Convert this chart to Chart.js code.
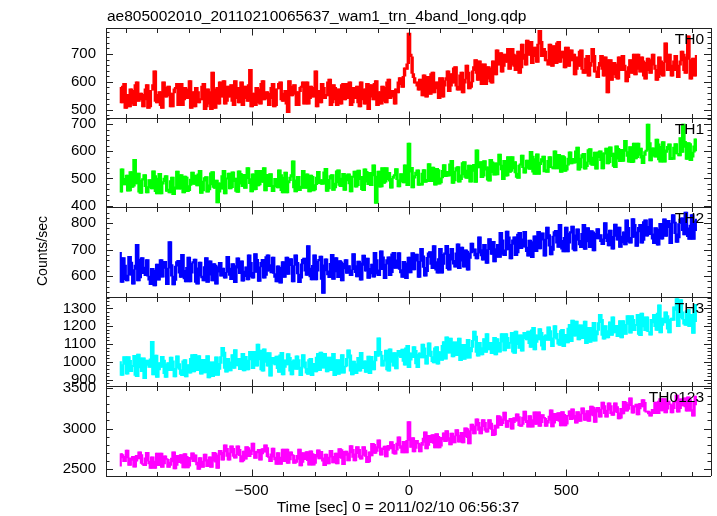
<!DOCTYPE html>
<html>
<head>
<meta charset="utf-8">
<script src="https://cdn.jsdelivr.net/npm/chart.js@4.4.1/dist/chart.umd.min.js"></script>
<style>
	html, body { margin: 0; padding: 0; background: #fff; }
	canvas { display: block; }
</style>
</head>
<body>
<canvas id="chart" width="717" height="516"></canvas>
<script>
const plotTitle = 'ae805002010_20110210065637_wam1_trn_4band_long.qdp';
const xTitle = 'Time [sec] 0 = 2011/02/10 06:56:37';
const yTitle = 'Counts/sec';

const bandNames = ['TH0', 'TH1', 'TH2', 'TH3', 'TH0123'];
const bandColors = ['#ff0000', '#00ff00', '#0000ff', '#00ffff', '#ff00ff'];
const yRanges = [[472, 793], [394, 724], [522, 860], [862, 1365], [2418, 3516]];
const yMajor = [100, 100, 100, 100, 500];
const yMinor = [20, 20, 20, 20, 100];
const xRange = [-963, 960];
const xMajor = 500;
const xMinor = 100;

// light curve bins, 4 s wide, first bin centred at -920 s (one row = 80 s)
const binStart = -920;
const binWidth = 4;

const th0 = [
	580, 535, 525, 585, 595, 505, 540, 555, 510, 575, 570, 520, 515, 590, 600, 530, 535, 560, 555, 510,
	535, 575, 590, 505, 510, 570, 570, 590, 640, 530, 525, 555, 565, 515, 505, 600, 580, 545, 550, 585,
	560, 510, 510, 560, 575, 580, 595, 515, 530, 595, 515, 535, 580, 545, 540, 575, 605, 505, 520, 565,
	510, 580, 565, 525, 540, 535, 585, 595, 500, 510, 575, 565, 520, 500, 635, 550, 505, 575, 580, 520,
	600, 565, 545, 605, 520, 530, 585, 545, 565, 590, 530, 515, 605, 580, 540, 525, 580, 600, 515, 550,
	585, 540, 530, 590, 645, 510, 545, 560, 515, 580, 575, 525, 520, 595, 605, 535, 540, 565, 560, 515,
	540, 580, 595, 510, 515, 575, 575, 595, 600, 535, 530, 560, 570, 520, 490, 605, 585, 550, 555, 590,
	565, 515, 515, 565, 580, 585, 600, 520, 535, 600, 520, 540, 585, 550, 545, 580, 640, 510, 525, 570,
	525, 595, 580, 540, 555, 550, 600, 610, 515, 525, 590, 580, 535, 515, 575, 565, 520, 590, 595, 535,
	595, 560, 540, 600, 515, 525, 580, 540, 560, 585, 525, 510, 600, 575, 535, 520, 575, 595, 500, 545,
	590, 545, 535, 595, 605, 515, 550, 565, 520, 585, 580, 530, 525, 600, 610, 540, 545, 570, 565, 520,
	575, 560, 600, 615, 590, 580, 620, 650, 645, 665, 775, 700, 690, 630, 615, 595, 600, 585, 570, 610,
	570, 550, 625, 600, 545, 620, 605, 555, 630, 635, 560, 575, 600, 585, 540, 615, 615, 545, 585, 605,
	615, 640, 565, 585, 630, 595, 650, 655, 585, 570, 570, 625, 635, 560, 595, 610, 660, 635, 575, 580,
	600, 640, 655, 680, 630, 605, 675, 620, 590, 665, 665, 590, 610, 655, 650, 600, 595, 675, 670, 625,
	715, 690, 660, 705, 635, 655, 700, 670, 680, 720, 645, 660, 720, 700, 655, 640, 695, 710, 630, 650,
	735, 700, 680, 660, 750, 725, 695, 745, 665, 690, 725, 700, 670, 735, 785, 745, 690, 720, 710, 675,
	680, 660, 735, 710, 655, 730, 715, 665, 740, 745, 670, 685, 710, 695, 650, 725, 725, 655, 695, 715,
	675, 700, 625, 645, 690, 655, 710, 715, 645, 630, 630, 685, 695, 620, 655, 670, 720, 695, 635, 640,
	615, 655, 670, 695, 645, 620, 690, 635, 560, 680, 680, 605, 625, 670, 665, 615, 610, 690, 685, 640,
	695, 660, 640, 600, 615, 655, 680, 630, 660, 700, 625, 675, 700, 645, 635, 690, 675, 620, 610, 670,
	685, 640, 630, 680, 700, 660, 645, 605, 615, 690, 675, 625, 620, 670, 740, 690, 640, 700, 660, 620,
	640, 675, 695, 640, 615, 660, 675, 710, 700, 640, 630, 690, 765, 680, 610, 650, 685, 620, 665, 695,
];

const th1 = [
	458, 449, 535, 494, 476, 500, 512, 453, 454, 525, 467, 471, 570, 480, 507, 520, 449, 445, 494, 499,
	514, 470, 447, 465, 496, 474, 461, 528, 510, 451, 443, 501, 519, 443, 479, 488, 501, 510, 452, 461,
	447, 492, 505, 440, 469, 460, 527, 473, 460, 514, 491, 447, 509, 505, 451, 455, 474, 498, 523, 478,
	489, 512, 472, 517, 530, 445, 454, 490, 503, 507, 449, 458, 476, 521, 525, 467, 463, 494, 410, 449,
	484, 460, 510, 530, 443, 502, 497, 520, 461, 466, 524, 488, 501, 452, 448, 528, 519, 479, 470, 515,
	463, 505, 540, 499, 481, 450, 517, 458, 459, 530, 472, 476, 530, 485, 512, 540, 454, 515, 499, 470,
	518, 475, 451, 469, 500, 478, 465, 532, 514, 455, 447, 505, 523, 447, 483, 492, 505, 514, 565, 465,
	450, 495, 508, 455, 472, 463, 530, 500, 463, 517, 494, 450, 512, 508, 454, 458, 477, 505, 526, 481,
	496, 478, 479, 524, 537, 452, 461, 497, 510, 514, 456, 465, 483, 528, 532, 474, 470, 501, 519, 456,
	491, 513, 517, 480, 450, 509, 504, 527, 468, 473, 531, 495, 508, 459, 455, 535, 526, 486, 477, 522,
	473, 520, 550, 509, 408, 485, 527, 468, 469, 540, 482, 486, 540, 495, 522, 490, 464, 500, 509, 514,
	536, 495, 469, 487, 518, 496, 483, 550, 532, 473, 630, 523, 541, 465, 501, 510, 523, 532, 474, 483,
	475, 520, 533, 485, 497, 488, 555, 520, 488, 542, 519, 475, 537, 533, 479, 483, 502, 530, 551, 506,
	526, 508, 509, 554, 567, 482, 491, 527, 540, 544, 486, 495, 513, 558, 562, 504, 500, 531, 549, 486,
	526, 548, 552, 485, 605, 544, 539, 562, 503, 508, 566, 530, 543, 494, 490, 570, 561, 521, 512, 557,
	513, 550, 590, 549, 531, 495, 567, 508, 509, 580, 522, 526, 580, 535, 562, 520, 504, 500, 549, 554,
	586, 540, 519, 537, 568, 546, 533, 600, 582, 523, 515, 573, 591, 515, 551, 560, 573, 582, 524, 533,
	522, 567, 580, 540, 544, 535, 602, 570, 535, 589, 566, 522, 584, 580, 526, 530, 549, 575, 598, 553,
	574, 556, 557, 602, 615, 530, 539, 575, 588, 592, 534, 543, 561, 606, 610, 552, 548, 579, 597, 534,
	576, 598, 602, 565, 535, 594, 589, 612, 553, 558, 616, 580, 593, 544, 540, 620, 611, 571, 562, 607,
	563, 605, 640, 599, 581, 560, 617, 558, 559, 630, 572, 576, 630, 585, 612, 575, 554, 585, 599, 604,
	700, 632, 564, 582, 613, 591, 578, 645, 627, 568, 560, 618, 636, 560, 596, 605, 618, 627, 569, 578,
	570, 615, 628, 590, 592, 583, 650, 596, 700, 637, 614, 570, 632, 628, 565, 578, 597, 620, 646, 601,
];

const th2 = [
	690, 625, 576, 670, 642, 587, 582, 604, 675, 653, 604, 570, 625, 642, 720, 582, 593, 664, 670, 609,
	634, 602, 662, 600, 585, 568, 629, 623, 563, 610, 645, 585, 613, 662, 596, 640, 656, 629, 568, 630,
	730, 644, 600, 567, 584, 638, 655, 660, 611, 595, 682, 622, 589, 578, 633, 672, 578, 611, 649, 655,
	664, 576, 570, 631, 653, 600, 593, 582, 636, 670, 576, 604, 658, 615, 582, 647, 642, 570, 615, 636,
	652, 600, 630, 603, 592, 614, 675, 630, 603, 587, 647, 610, 575, 640, 669, 630, 609, 658, 581, 598,
	619, 635, 586, 680, 652, 597, 592, 614, 685, 663, 614, 580, 635, 652, 663, 592, 603, 674, 680, 619,
	644, 612, 672, 610, 595, 578, 639, 633, 573, 620, 655, 595, 623, 672, 606, 650, 666, 639, 578, 640,
	680, 652, 608, 575, 592, 646, 663, 668, 619, 603, 715, 630, 597, 586, 641, 680, 586, 619, 657, 663,
	676, 588, 535, 643, 665, 620, 605, 594, 648, 682, 588, 616, 670, 627, 594, 659, 654, 582, 627, 648,
	662, 610, 640, 613, 602, 624, 685, 640, 613, 597, 657, 620, 585, 650, 679, 640, 619, 668, 591, 608,
	629, 645, 596, 690, 662, 607, 602, 624, 695, 673, 624, 590, 645, 662, 673, 602, 613, 684, 690, 629,
	661, 629, 689, 625, 612, 595, 656, 650, 590, 640, 672, 612, 640, 689, 623, 665, 683, 656, 595, 655,
	705, 677, 633, 600, 617, 671, 688, 693, 644, 628, 715, 655, 622, 611, 666, 705, 611, 644, 682, 688,
	716, 628, 622, 683, 705, 660, 645, 634, 688, 722, 628, 656, 710, 667, 634, 699, 694, 622, 667, 688,
	725, 690, 703, 676, 665, 687, 748, 700, 676, 660, 720, 680, 648, 700, 742, 703, 682, 731, 654, 671,
	704, 720, 671, 765, 737, 682, 677, 699, 770, 748, 699, 665, 720, 737, 748, 677, 688, 759, 765, 704,
	741, 709, 769, 710, 692, 675, 736, 730, 670, 720, 752, 692, 720, 769, 703, 745, 763, 736, 675, 740,
	785, 757, 713, 680, 697, 751, 768, 773, 724, 708, 795, 735, 702, 691, 746, 785, 691, 724, 762, 768,
	789, 701, 695, 756, 778, 735, 718, 707, 761, 795, 701, 729, 783, 740, 707, 772, 767, 695, 740, 761,
	779, 740, 757, 730, 719, 741, 802, 760, 730, 714, 774, 735, 702, 750, 796, 757, 736, 785, 708, 725,
	751, 767, 718, 812, 784, 729, 724, 746, 817, 795, 746, 712, 767, 784, 795, 724, 735, 806, 812, 751,
	788, 756, 816, 760, 739, 722, 783, 777, 717, 765, 799, 739, 767, 816, 750, 790, 810, 783, 722, 800,
	832, 804, 760, 727, 744, 798, 815, 820, 771, 755, 842, 782, 749, 738, 793, 832, 738, 771, 809, 815,
];

const th3 = [
	1001, 950, 924, 985, 1029, 1001, 931, 1029, 1008, 945, 973, 980, 1036, 924, 917, 1043, 1022, 966, 945, 1022,
	905, 980, 1010, 989, 968, 1017, 1115, 926, 1024, 1038, 912, 954, 996, 968, 1031, 1010, 933, 912, 989, 996,
	950, 1027, 1006, 950, 915, 964, 1034, 990, 957, 929, 922, 1006, 1013, 915, 985, 950, 936, 1020, 1041, 943,
	1042, 979, 951, 1035, 979, 930, 1014, 951, 937, 1014, 1035, 909, 958, 1000, 916, 923, 1000, 1028, 923, 958,
	991, 1030, 1082, 1054, 963, 942, 1019, 1000, 949, 990, 1040, 963, 1068, 1010, 977, 1020, 956, 1019, 1047, 949,
	1031, 990, 954, 1010, 1059, 1031, 961, 1059, 1038, 975, 1100, 1010, 1066, 954, 947, 1073, 1052, 996, 975, 1052,
	920, 990, 1025, 1004, 983, 1032, 962, 941, 1039, 1053, 927, 969, 1011, 983, 1046, 1025, 948, 927, 1004, 1011,
	957, 1034, 1013, 957, 922, 971, 1041, 1000, 964, 936, 929, 1013, 1020, 922, 992, 960, 943, 1027, 1048, 950,
	1055, 992, 964, 1048, 992, 943, 1027, 964, 950, 1027, 1048, 922, 971, 1013, 929, 936, 1013, 1041, 936, 971,
	976, 1020, 1067, 1039, 948, 927, 1004, 990, 934, 975, 1025, 948, 1053, 1000, 962, 1005, 941, 1004, 1032, 934,
	1031, 985, 954, 1005, 1059, 1031, 1135, 1059, 1038, 975, 1003, 1010, 1066, 954, 947, 1073, 1052, 996, 975, 1052,
	960, 1030, 1065, 1044, 1023, 1072, 1002, 981, 1079, 1093, 967, 1009, 1051, 1023, 1086, 1065, 988, 967, 1044, 1051,
	1022, 1099, 1078, 1022, 987, 1036, 1106, 1060, 1029, 1001, 994, 1078, 1085, 987, 1057, 1030, 1008, 1092, 1113, 1015,
	1140, 1077, 1049, 1133, 1077, 1028, 1112, 1049, 1035, 1112, 1133, 1007, 1056, 1098, 1014, 1021, 1098, 1126, 1021, 1056,
	1081, 1120, 1172, 1144, 1053, 1032, 1109, 1080, 1039, 1070, 1130, 1053, 1158, 1100, 1067, 1110, 1046, 1109, 1137, 1039,
	1131, 1090, 1054, 1110, 1159, 1131, 1061, 1159, 1138, 1075, 1103, 1110, 1166, 1054, 1047, 1173, 1152, 1096, 1075, 1152,
	1060, 1130, 1165, 1144, 1123, 1172, 1102, 1081, 1179, 1193, 1067, 1109, 1151, 1123, 1186, 1165, 1088, 1067, 1144, 1151,
	1120, 1197, 1176, 1120, 1085, 1134, 1204, 1160, 1127, 1099, 1092, 1176, 1183, 1085, 1155, 1125, 1106, 1190, 1211, 1113,
	1235, 1172, 1144, 1228, 1172, 1123, 1207, 1144, 1130, 1207, 1228, 1102, 1151, 1193, 1109, 1116, 1193, 1221, 1116, 1151,
	1176, 1220, 1267, 1239, 1148, 1127, 1204, 1175, 1134, 1170, 1225, 1148, 1253, 1200, 1162, 1205, 1141, 1204, 1232, 1134,
	1231, 1190, 1154, 1210, 1259, 1231, 1161, 1259, 1238, 1175, 1203, 1210, 1266, 1154, 1147, 1273, 1252, 1196, 1175, 1252,
	1170, 1169, 1150, 1239, 1218, 1267, 1197, 1176, 1274, 1320, 1162, 1204, 1246, 1218, 1281, 1260, 1183, 1162, 1239, 1246,
	1232, 1309, 1288, 1355, 1197, 1246, 1350, 1280, 1239, 1211, 1204, 1288, 1295, 1197, 1267, 1230, 1160, 1302, 1323, 1225,
];

const th0123 = [
	2538, 2692, 2681, 2640, 2593, 2660, 2736, 2640, 2549, 2610, 2637, 2659, 2527, 2600, 2670, 2626, 2714, 2681, 2571, 2560,
	2544, 2640, 2709, 2600, 2566, 2511, 2654, 2580, 2511, 2600, 2698, 2544, 2577, 2698, 2522, 2566, 2665, 2632, 2621, 2522,
	2549, 2590, 2637, 2714, 2505, 2549, 2670, 2582, 2604, 2681, 2571, 2516, 2692, 2659, 2516, 2538, 2648, 2620, 2703, 2593,
	2676, 2590, 2555, 2500, 2643, 2580, 2522, 2600, 2687, 2620, 2533, 2610, 2654, 2522, 2599, 2709, 2698, 2588, 2511, 2676,
	2734, 2680, 2613, 2712, 2800, 2756, 2657, 2613, 2701, 2789, 2756, 2657, 2635, 2679, 2789, 2745, 2668, 2591, 2602, 2723,
	2623, 2777, 2766, 2656, 2678, 2740, 2821, 2720, 2634, 2700, 2722, 2744, 2612, 2690, 2755, 2711, 2799, 2766, 2656, 2645,
	2594, 2690, 2759, 2650, 2616, 2561, 2704, 2630, 2561, 2650, 2748, 2594, 2627, 2748, 2572, 2616, 2715, 2682, 2671, 2572,
	2584, 2620, 2672, 2749, 2540, 2584, 2705, 2617, 2639, 2716, 2606, 2551, 2727, 2694, 2551, 2573, 2683, 2650, 2738, 2628,
	2721, 2640, 2600, 2545, 2688, 2620, 2567, 2650, 2732, 2660, 2578, 2655, 2699, 2567, 2644, 2754, 2743, 2633, 2556, 2721,
	2724, 2670, 2603, 2702, 2790, 2746, 2647, 2603, 2691, 2779, 2746, 2647, 2625, 2669, 2779, 2735, 2658, 2581, 2592, 2713,
	2663, 2817, 2806, 2696, 2718, 2780, 2861, 2760, 2674, 2740, 2762, 2784, 2652, 2730, 2795, 2751, 2839, 2806, 2696, 2685,
	2734, 2820, 2899, 2790, 2756, 2701, 2844, 2770, 2701, 2855, 3085, 2860, 2767, 2888, 2712, 2756, 2855, 2822, 2811, 2712,
	2794, 2830, 2882, 2959, 2750, 2794, 2915, 2827, 2849, 2926, 2816, 2761, 2937, 2904, 2761, 2783, 2893, 2860, 2948, 2838,
	2976, 2890, 2855, 2800, 2943, 2880, 2822, 2910, 2987, 2920, 2833, 2910, 2954, 2822, 2899, 3009, 2998, 2888, 2811, 2976,
	3054, 3000, 2933, 3032, 3120, 3076, 2977, 2933, 3021, 3109, 3076, 2977, 2955, 2999, 3109, 3065, 2988, 2911, 2922, 3043,
	3003, 3157, 3146, 3036, 3058, 3120, 3201, 3100, 3014, 3080, 3102, 3124, 2992, 3070, 3135, 3091, 3179, 3146, 3036, 3025,
	3049, 3140, 3214, 3100, 3071, 3016, 3159, 3080, 3016, 3110, 3203, 3049, 3082, 3203, 3027, 3071, 3170, 3137, 3126, 3027,
	3064, 3100, 3152, 3229, 3020, 3064, 3185, 3097, 3119, 3196, 3086, 3031, 3207, 3174, 3031, 3053, 3163, 3150, 3218, 3108,
	3241, 3160, 3120, 3065, 3208, 3150, 3087, 3180, 3252, 3190, 3098, 3175, 3219, 3087, 3164, 3274, 3263, 3153, 3076, 3241,
	3259, 3200, 3138, 3237, 3325, 3281, 3182, 3138, 3226, 3314, 3281, 3182, 3160, 3204, 3314, 3270, 3193, 3116, 3127, 3248,
	3178, 3332, 3321, 3211, 3233, 3300, 3376, 3280, 3189, 3260, 3277, 3299, 3167, 3240, 3310, 3266, 3354, 3321, 3211, 3200,
	3214, 3180, 3150, 3200, 3236, 3181, 3324, 3291, 3181, 3335, 3368, 3214, 3247, 3368, 3192, 3236, 3335, 3302, 3291, 3192,
	3244, 3321, 3332, 3409, 3200, 3244, 3365, 3277, 3299, 3376, 3266, 3211, 3387, 3354, 3211, 3233, 3150, 3330, 3398, 3288,
];

const series = [th0, th1, th2, th3, th0123];
const times = th0.map((_, i) => binStart + i * binWidth);

const FONT = "'Liberation Sans', Arial, sans-serif";
Chart.defaults.font.family = FONT;
Chart.defaults.font.size = 15;
Chart.defaults.color = '#000';

const fmt = (v) => (v < 0 ? '\u2212' + Math.abs(v) : String(v));

// multiples of step inside [lo, hi]
function stepsWithin(lo, hi, step) {
	const out = [];
	for (let v = Math.ceil(lo / step) * step; v <= hi; v += step) out.push(v);
	return out;
}

// one pixel column holds about three bins at this scale, and the curve fills it
// from the lowest to the highest of them: draw that span as a thin floating bar
function toSpans(values) {
	return values.slice(2).map((v, j) => {
		const group = [values[j], values[j + 1], v];
		return { x: times[j + 1], y: [Math.min(...group), Math.max(...group)] };
	});
}

// --- scales ---

const scales = {
	x: {
		type: 'linear',
		position: 'bottom',
		offset: false,
		min: xRange[0],
		max: xRange[1],
		grid: { display: false, drawTicks: false },
		border: { display: false },
		ticks: { autoSkip: false, maxRotation: 0, padding: 6, callback: fmt },
		afterBuildTicks: (s) => (s.ticks = stepsWithin(xRange[0], xRange[1], xMajor).map((value) => ({ value }))),
		afterFit: (s) => (s.height = 40),
	},
};

bandNames.forEach((name, i) => {
	scales['y' + i] = {
		type: 'linear',
		position: 'left',
		stack: 'bands',
		weight: bandNames.length - i,
		min: yRanges[i][0],
		max: yRanges[i][1],
		grid: { display: false, drawTicks: false },
		border: { display: false },
		ticks: { autoSkip: false, padding: 10, callback: fmt },
		afterBuildTicks: (s) => (s.ticks = stepsWithin(yRanges[i][0], yRanges[i][1], yMajor[i]).map((value) => ({ value }))),
		afterFit: (s) => (s.width = 106),
	};
});

// --- frame, inward ticks and texts in the qdp style ---

const qdpFrame = {
	id: 'qdpFrame',
	afterDraw(chart) {
		const ctx = chart.ctx;
		const { left, right, top, bottom } = chart.chartArea;
		const xs = chart.scales.x;
		const px = (v) => Math.round(v) + 0.5;

		ctx.save();
		ctx.strokeStyle = '#222';
		ctx.lineWidth = 1;
		ctx.beginPath();

		bandNames.forEach((name, i) => {
			const ys = chart.scales['y' + i];
			const yt = px(ys.top);
			const yb = px(ys.bottom);

			ctx.moveTo(left, yt);
			ctx.lineTo(right, yt);
			ctx.moveTo(left, yb);
			ctx.lineTo(right, yb);

			// x ticks on top and bottom of each panel
			stepsWithin(xRange[0], xRange[1], xMinor).forEach((v) => {
				const x = px(xs.getPixelForValue(v));
				const len = v % xMajor === 0 ? 7 : 4.5;
				ctx.moveTo(x, yt);
				ctx.lineTo(x, yt + len);
				ctx.moveTo(x, yb);
				ctx.lineTo(x, yb - len);
			});

			// y ticks on left and right
			stepsWithin(yRanges[i][0], yRanges[i][1], yMinor[i]).forEach((v) => {
				const y = px(ys.getPixelForValue(v));
				const len = v % yMajor[i] === 0 ? 7 : 3.5;
				ctx.moveTo(left, y);
				ctx.lineTo(left + len, y);
				ctx.moveTo(right, y);
				ctx.lineTo(right - len, y);
			});
		});

		ctx.moveTo(px(left), top);
		ctx.lineTo(px(left), bottom);
		ctx.moveTo(px(right), top);
		ctx.lineTo(px(right), bottom);
		ctx.stroke();

		ctx.fillStyle = '#000';
		ctx.font = `15.5px ${FONT}`;
		ctx.textBaseline = 'alphabetic';

		ctx.textAlign = 'left';
		ctx.fillText(plotTitle, 107, 21);

		ctx.textAlign = 'right';
		bandNames.forEach((name, i) => {
			const ys = chart.scales['y' + i];
			ctx.fillText(name, 704, ys.top + 16);
		});

		ctx.textAlign = 'center';
		ctx.fillText(xTitle, 398, 512);

		ctx.save();
		ctx.font = `14px ${FONT}`;
		ctx.textBaseline = 'middle';
		ctx.translate(43, 251);
		ctx.rotate(-Math.PI / 2);
		ctx.fillText(yTitle, 0, 0);
		ctx.restore();

		ctx.restore();
	},
};

new Chart(document.getElementById('chart'), {
	type: 'bar',
	data: {
		datasets: series.map((values, i) => ({
			label: bandNames[i],
			data: toSpans(values),
			yAxisID: 'y' + i,
			backgroundColor: bandColors[i],
			borderWidth: 0,
			grouped: false,
			barThickness: 1.5,
		})),
	},
	options: {
		responsive: false,
		animation: false,
		devicePixelRatio: 1,
		layout: { padding: { top: 28, right: 6, left: 0, bottom: 0 } },
		plugins: { legend: { display: false }, tooltip: { enabled: false }, title: { display: false } },
		scales,
	},
	plugins: [qdpFrame],
});
</script>
</body>
</html>
